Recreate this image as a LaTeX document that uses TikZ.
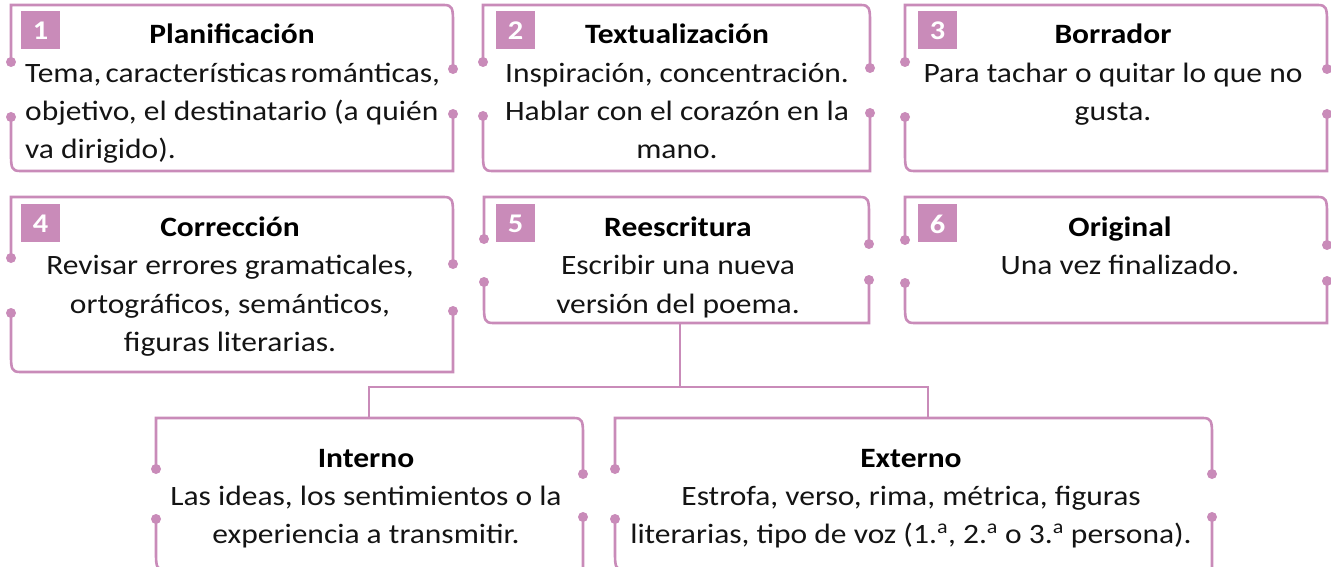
\documentclass[tikz,border=0pt]{standalone}
\usepackage{fontspec}
\setmainfont{Carlito}[FakeStretch=1.125]
\definecolor{pinkc}{RGB}{201,139,185}
\definecolor{txt}{RGB}{20,20,20}
\tikzset{
  boxline/.style={draw=pinkc, line width=2.6pt},
  conn/.style={draw=pinkc, line width=2.6pt},
  titletext/.style={anchor=base, inner sep=0pt, text=black, font=\fontsize{28}{38}\selectfont\bfseries},
  bodytext/.style={anchor=base, inner sep=0pt, text=txt, font=\fontsize{28}{38}\selectfont},
  badgetext/.style={anchor=center, inner sep=0pt, text=white, font=\fontsize{27}{30}\selectfont\bfseries},
}
% #1 name, #2 xL, #3 xR, #4 top, #5 bottom, #6 ld1, #7 ld2, #8 rd1, #9 rd2
\newcommand\flowbox[9]{%
  \draw[boxline] (#2,#6) -- (#2,#4) -- (#3-9,#4) .. controls (#3-1,#4) and (#3,#4+3) .. (#3,#4+16) -- (#3,#8);
  \draw[boxline] (#2,#7) -- (#2,#5-16) .. controls (#2,#5-3) and (#2+1,#5) .. (#2+9,#5) -- (#3,#5) -- (#3,#9);
  \fill[pinkc] (#2,#6) circle (5pt) (#2,#7) circle (5pt) (#3,#8) circle (5pt) (#3,#9) circle (5pt);
  \coordinate (#1-n) at ({(#2+#3)/2},#4);
}
\newcommand\badge[4]{% name, x, y, number
  \fill[pinkc] (#2,#3) rectangle (#2+39,#3+38);
  \node[badgetext] (#1) at (#2+19.5,#3+20) {#4};
}
\begin{document}
\begin{tikzpicture}[x=1pt,y=-1pt]
\useasboundingbox (0,0) rectangle (1331,567);
\clip (0,0) rectangle (1331,567);

% Row 1
\flowbox{b1}{11}{453}{5}{171}{62}{117}{69}{114}
\flowbox{b2}{483}{870}{5}{171}{62}{116}{68}{113}
\flowbox{b3}{905}{1327}{5}{171}{62}{117}{69}{114}
\badge{n1}{21}{11}{1}
\badge{n2}{496}{11}{2}
\badge{n3}{918}{11}{3}

\node[titletext] (t1) at (232,44) {Planificación};
\node[bodytext, anchor=base west] (l1a) at (25,83) {\spaceskip=4pt Tema, características románticas,};
\node[bodytext, anchor=base west] (l1b) at (25,121) {objetivo, el destinatario (a quién};
\node[bodytext, anchor=base west] (l1c) at (25,159) {va dirigido).};

\node[titletext] (t2) at (677,44) {Textualización};
\node[bodytext] (l2a) at (677,83) {Inspiración, concentración.};
\node[bodytext] (l2b) at (677,121) {Hablar con el corazón en la};
\node[bodytext] (l2c) at (677,159) {mano.};

\node[titletext] (t3) at (1113,44) {Borrador};
\node[bodytext] (l3a) at (1113,83) {Para tachar o quitar lo que no};
\node[bodytext] (l3b) at (1113,121) {gusta.};

% Row 2
\flowbox{b4}{11}{453}{197}{372}{258}{313}{264}{311}
\flowbox{b5}{484}{869}{197}{323}{239}{282}{244}{280}
\flowbox{b6}{905}{1327}{197}{323}{240}{283}{245}{281}
\badge{n4}{21}{204}{4}
\badge{n5}{496}{204}{5}
\badge{n6}{918}{204}{6}

\node[titletext] (t4) at (230,236) {Corrección};
\node[bodytext] (l4a) at (230,274) {Revisar errores gramaticales,};
\node[bodytext] (l4b) at (230,313) {ortográficos, semánticos,};
\node[bodytext] (l4c) at (230,351) {figuras literarias.};

\node[titletext] (t5) at (678,236) {Reescritura};
\node[bodytext] (l5a) at (678,274) {Escribir una nueva};
\node[bodytext] (l5b) at (678,313) {versión del poema.};

\node[titletext] (t6) at (1120,236) {Original};
\node[bodytext] (l6a) at (1120,274) {Una vez finalizado.};

% Row 3
\flowbox{bi}{156}{583}{418}{570}{469}{519}{474}{517}
\flowbox{be}{615}{1212}{418}{570}{469}{519}{474}{517}

\node[titletext] (ti) at (366,467) {Interno};
\node[bodytext] (lia) at (366,505) {Las ideas, los sentimientos o la};
\node[bodytext] (lib) at (366,543) {experiencia a transmitir.};

\node[titletext] (te) at (911,467) {Externo};
\node[bodytext] (lea) at (911,505) {Estrofa, verso, rima, métrica, figuras};
\node[bodytext] (leb) at (911,543) {literarias, tipo de voz (1.\textsuperscript{a}, 2.\textsuperscript{a} o 3.\textsuperscript{a} persona).};

% Connectors
\coordinate (b5s) at (680,323);
\coordinate (jn) at (680,387);
\coordinate (intT) at (369,418);
\coordinate (extT) at (928,418);
\draw[conn] (b5s) -- (jn);
\draw[conn] (intT) |- (jn);
\draw[conn] (extT) |- (jn);
\end{tikzpicture}
\end{document}
